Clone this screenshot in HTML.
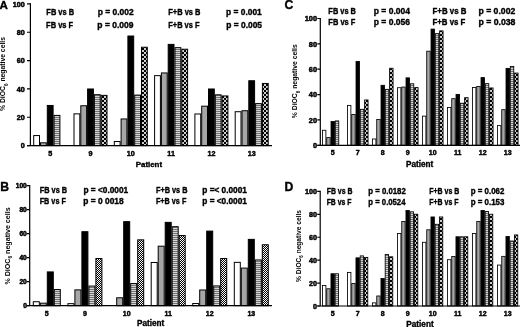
<!DOCTYPE html>
<html><head><meta charset="utf-8"><style>
html,body{margin:0;padding:0;background:#fff;}
body{width:520px;height:327px;overflow:hidden;}
svg{display:block;font-family:"Liberation Sans", sans-serif;will-change:transform;}
text{fill:#000;stroke:#000;stroke-width:0.35px;stroke-linejoin:round;}
</style></head><body>
<svg width="520" height="327" viewBox="0 0 520 327">
<rect width="520" height="327" fill="#fff"/>
<defs>
<pattern id="stripe" patternUnits="userSpaceOnUse" width="4" height="2">
<rect width="4" height="2" fill="#747474"/><rect width="4" height="1" fill="#d4d4d4"/>
</pattern>
<pattern id="check" patternUnits="userSpaceOnUse" width="4" height="4">
<rect width="4" height="4" fill="#000"/><rect x=".1" y=".1" width="1.8" height="1.8" fill="#fff"/><rect x="2.1" y="2.1" width="1.8" height="1.8" fill="#fff"/>
</pattern>
<pattern id="checkB" patternUnits="userSpaceOnUse" width="2" height="2">
<rect width="2" height="2" fill="#000"/><rect width="1" height="1" fill="#fff"/><rect x="1" y="1" width="1" height="1" fill="#fff"/>
</pattern>
</defs>
<rect x="33.7" y="135.57" width="5.8" height="10.03" fill="#ffffff" stroke="#000" stroke-width="1"/>
<rect x="40.5" y="142.81" width="5.8" height="2.79" fill="#a6a6a6" stroke="#000" stroke-width="1"/>
<rect x="47.3" y="105.46" width="5.8" height="40.14" fill="#000000" stroke="#000" stroke-width="1"/>
<rect x="54.1" y="115.4" width="5.8" height="30.2" fill="url(#stripe)" stroke="#000" stroke-width="1"/>
<rect x="74" y="113.84" width="5.8" height="31.76" fill="#ffffff" stroke="#000" stroke-width="1"/>
<rect x="80.8" y="105.75" width="5.8" height="39.85" fill="#a6a6a6" stroke="#000" stroke-width="1"/>
<rect x="87.6" y="88.99" width="5.8" height="56.61" fill="#000000" stroke="#000" stroke-width="1"/>
<rect x="94.4" y="94.67" width="5.8" height="50.93" fill="url(#stripe)" stroke="#000" stroke-width="1"/>
<rect x="101.2" y="95.38" width="5.8" height="50.22" fill="url(#check)" stroke="#000" stroke-width="1"/>
<rect x="114.3" y="141.53" width="5.8" height="4.07" fill="#ffffff" stroke="#000" stroke-width="1"/>
<rect x="121.1" y="118.95" width="5.8" height="26.65" fill="#a6a6a6" stroke="#000" stroke-width="1"/>
<rect x="127.9" y="36.02" width="5.8" height="109.58" fill="#000000" stroke="#000" stroke-width="1"/>
<rect x="134.7" y="95.1" width="5.8" height="50.5" fill="url(#stripe)" stroke="#000" stroke-width="1"/>
<rect x="141.5" y="47.24" width="5.8" height="98.36" fill="url(#check)" stroke="#000" stroke-width="1"/>
<rect x="154.6" y="75.64" width="5.8" height="69.96" fill="#ffffff" stroke="#000" stroke-width="1"/>
<rect x="161.4" y="72.94" width="5.8" height="72.66" fill="#a6a6a6" stroke="#000" stroke-width="1"/>
<rect x="168.2" y="44.4" width="5.8" height="101.2" fill="#000000" stroke="#000" stroke-width="1"/>
<rect x="175" y="47.67" width="5.8" height="97.93" fill="url(#stripe)" stroke="#000" stroke-width="1"/>
<rect x="181.8" y="49.23" width="5.8" height="96.37" fill="url(#check)" stroke="#000" stroke-width="1"/>
<rect x="194.9" y="113.98" width="5.8" height="31.62" fill="#ffffff" stroke="#000" stroke-width="1"/>
<rect x="201.7" y="106.17" width="5.8" height="39.43" fill="#a6a6a6" stroke="#000" stroke-width="1"/>
<rect x="208.5" y="88.99" width="5.8" height="56.61" fill="#000000" stroke="#000" stroke-width="1"/>
<rect x="215.3" y="94.81" width="5.8" height="50.79" fill="url(#stripe)" stroke="#000" stroke-width="1"/>
<rect x="222.1" y="95.95" width="5.8" height="49.65" fill="url(#check)" stroke="#000" stroke-width="1"/>
<rect x="235.2" y="111.71" width="5.8" height="33.89" fill="#ffffff" stroke="#000" stroke-width="1"/>
<rect x="242" y="110.72" width="5.8" height="34.88" fill="#a6a6a6" stroke="#000" stroke-width="1"/>
<rect x="248.8" y="80.75" width="5.8" height="64.85" fill="#000000" stroke="#000" stroke-width="1"/>
<rect x="255.6" y="103.62" width="5.8" height="41.98" fill="url(#stripe)" stroke="#000" stroke-width="1"/>
<rect x="262.4" y="83.45" width="5.8" height="62.15" fill="url(#check)" stroke="#000" stroke-width="1"/>
<path d="M30.4 3.3V146.2M27 145.6H272" stroke="#000" stroke-width="1.2" fill="none"/>
<text x="24.7" y="148.19" font-size="7.2" font-weight="bold" text-anchor="end" style="stroke-width:0.5px">0</text>
<text x="24.7" y="119.85" font-size="7.2" font-weight="bold" text-anchor="end" style="stroke-width:0.5px">20</text>
<text x="24.7" y="91.51" font-size="7.2" font-weight="bold" text-anchor="end" style="stroke-width:0.5px">40</text>
<text x="24.7" y="63.17" font-size="7.2" font-weight="bold" text-anchor="end" style="stroke-width:0.5px">60</text>
<text x="24.7" y="34.83" font-size="7.2" font-weight="bold" text-anchor="end" style="stroke-width:0.5px">80</text>
<text x="24.7" y="6.49" font-size="7.2" font-weight="bold" text-anchor="end" style="stroke-width:0.5px">100</text>
<path d="M27 145.6H30.4M27 117.26H30.4M27 88.92H30.4M27 60.58H30.4M27 32.24H30.4M27 3.9H30.4" stroke="#000" stroke-width="1.2"/>
<text x="50.2" y="156" font-size="7.2" font-weight="bold" text-anchor="middle" style="stroke-width:0.45px">5</text>
<text x="90.5" y="156" font-size="7.2" font-weight="bold" text-anchor="middle" style="stroke-width:0.45px">9</text>
<text x="130.8" y="156" font-size="7.2" font-weight="bold" text-anchor="middle" style="stroke-width:0.45px">10</text>
<text x="171.1" y="156" font-size="7.2" font-weight="bold" text-anchor="middle" style="stroke-width:0.45px">11</text>
<text x="211.4" y="156" font-size="7.2" font-weight="bold" text-anchor="middle" style="stroke-width:0.45px">12</text>
<text x="251.7" y="156" font-size="7.2" font-weight="bold" text-anchor="middle" style="stroke-width:0.45px">13</text>
<text x="148.9" y="167" font-size="7.9" font-weight="bold" text-anchor="middle">Patient</text>
<text transform="translate(5 74) rotate(-90)" font-size="6.8" font-weight="bold" text-anchor="middle" style="stroke-width:0">% DiOC<tspan font-size="4.62" dy="2.58">6</tspan><tspan dy="-2.58"> negative cells</tspan></text>
<text x="-0.4" y="8.6" font-size="11.6" font-weight="bold">A</text>
<rect x="322.43" y="130.27" width="3.45" height="15.03" fill="#ffffff" stroke="#000" stroke-width="0.85"/>
<rect x="326.73" y="137.59" width="3.45" height="7.71" fill="#a6a6a6" stroke="#000" stroke-width="0.85"/>
<rect x="331.03" y="121.55" width="3.45" height="23.75" fill="#000000" stroke="#000" stroke-width="0.85"/>
<rect x="335.32" y="120.92" width="3.45" height="24.38" fill="url(#stripe)" stroke="#000" stroke-width="0.85"/>
<rect x="347.43" y="105.39" width="3.45" height="39.91" fill="#ffffff" stroke="#000" stroke-width="0.85"/>
<rect x="351.73" y="114.48" width="3.45" height="30.82" fill="#a6a6a6" stroke="#000" stroke-width="0.85"/>
<rect x="356.03" y="61.44" width="3.45" height="83.86" fill="#000000" stroke="#000" stroke-width="0.85"/>
<rect x="360.32" y="109.3" width="3.45" height="36" fill="url(#stripe)" stroke="#000" stroke-width="0.85"/>
<rect x="364.62" y="99.96" width="3.45" height="45.34" fill="url(#check)" stroke="#000" stroke-width="0.85"/>
<rect x="372.43" y="138.98" width="3.45" height="6.32" fill="#ffffff" stroke="#000" stroke-width="0.85"/>
<rect x="376.73" y="119.41" width="3.45" height="25.89" fill="#a6a6a6" stroke="#000" stroke-width="0.85"/>
<rect x="381.03" y="85.31" width="3.45" height="59.99" fill="#000000" stroke="#000" stroke-width="0.85"/>
<rect x="385.32" y="89.35" width="3.45" height="55.95" fill="url(#stripe)" stroke="#000" stroke-width="0.85"/>
<rect x="389.62" y="68.26" width="3.45" height="77.04" fill="url(#check)" stroke="#000" stroke-width="0.85"/>
<rect x="397.43" y="87.71" width="3.45" height="57.59" fill="#ffffff" stroke="#000" stroke-width="0.85"/>
<rect x="401.73" y="87.07" width="3.45" height="58.23" fill="#a6a6a6" stroke="#000" stroke-width="0.85"/>
<rect x="406.03" y="77.85" width="3.45" height="67.45" fill="#000000" stroke="#000" stroke-width="0.85"/>
<rect x="410.32" y="83.79" width="3.45" height="61.51" fill="url(#stripe)" stroke="#000" stroke-width="0.85"/>
<rect x="414.62" y="87.58" width="3.45" height="57.72" fill="url(#check)" stroke="#000" stroke-width="0.85"/>
<rect x="422.43" y="116.12" width="3.45" height="29.18" fill="#ffffff" stroke="#000" stroke-width="0.85"/>
<rect x="426.73" y="51.21" width="3.45" height="94.09" fill="#a6a6a6" stroke="#000" stroke-width="0.85"/>
<rect x="431.03" y="29.1" width="3.45" height="116.2" fill="#000000" stroke="#000" stroke-width="0.85"/>
<rect x="435.32" y="33.65" width="3.45" height="111.65" fill="url(#stripe)" stroke="#000" stroke-width="0.85"/>
<rect x="439.62" y="30.87" width="3.45" height="114.43" fill="url(#check)" stroke="#000" stroke-width="0.85"/>
<rect x="447.43" y="107.53" width="3.45" height="37.77" fill="#ffffff" stroke="#000" stroke-width="0.85"/>
<rect x="451.73" y="98.69" width="3.45" height="46.61" fill="#a6a6a6" stroke="#000" stroke-width="0.85"/>
<rect x="456.03" y="94.4" width="3.45" height="50.9" fill="#000000" stroke="#000" stroke-width="0.85"/>
<rect x="460.32" y="103.24" width="3.45" height="42.06" fill="url(#stripe)" stroke="#000" stroke-width="0.85"/>
<rect x="464.62" y="97.68" width="3.45" height="47.62" fill="url(#check)" stroke="#000" stroke-width="0.85"/>
<rect x="472.43" y="87.45" width="3.45" height="57.85" fill="#ffffff" stroke="#000" stroke-width="0.85"/>
<rect x="476.73" y="86.57" width="3.45" height="58.73" fill="#a6a6a6" stroke="#000" stroke-width="0.85"/>
<rect x="481.03" y="77.6" width="3.45" height="67.7" fill="#000000" stroke="#000" stroke-width="0.85"/>
<rect x="485.32" y="83.66" width="3.45" height="61.64" fill="url(#stripe)" stroke="#000" stroke-width="0.85"/>
<rect x="489.62" y="87.96" width="3.45" height="57.34" fill="url(#check)" stroke="#000" stroke-width="0.85"/>
<rect x="497.43" y="125.6" width="3.45" height="19.7" fill="#ffffff" stroke="#000" stroke-width="0.85"/>
<rect x="501.73" y="109.68" width="3.45" height="35.62" fill="#a6a6a6" stroke="#000" stroke-width="0.85"/>
<rect x="506.03" y="68.38" width="3.45" height="76.92" fill="#000000" stroke="#000" stroke-width="0.85"/>
<rect x="510.32" y="66.49" width="3.45" height="78.81" fill="url(#stripe)" stroke="#000" stroke-width="0.85"/>
<rect x="514.62" y="73.06" width="3.45" height="72.24" fill="url(#check)" stroke="#000" stroke-width="0.85"/>
<path d="M320.3 17.9V145.9M317.3 145.3H521" stroke="#000" stroke-width="1.2" fill="none"/>
<text x="317" y="147.96" font-size="7.4" font-weight="bold" text-anchor="end" style="stroke-width:0.5px">0</text>
<text x="317" y="122.6" font-size="7.4" font-weight="bold" text-anchor="end" style="stroke-width:0.5px">20</text>
<text x="317" y="97.24" font-size="7.4" font-weight="bold" text-anchor="end" style="stroke-width:0.5px">40</text>
<text x="317" y="71.88" font-size="7.4" font-weight="bold" text-anchor="end" style="stroke-width:0.5px">60</text>
<text x="317" y="46.52" font-size="7.4" font-weight="bold" text-anchor="end" style="stroke-width:0.5px">80</text>
<text x="317" y="21.16" font-size="7.4" font-weight="bold" text-anchor="end" style="stroke-width:0.5px">100</text>
<path d="M317.3 145.3H320.3M317.3 119.94H320.3M317.3 94.58H320.3M317.3 69.22H320.3M317.3 43.86H320.3M317.3 18.5H320.3" stroke="#000" stroke-width="1.2"/>
<text x="332.75" y="154.9" font-size="7" font-weight="bold" text-anchor="middle" style="stroke-width:0.45px">5</text>
<text x="357.75" y="154.9" font-size="7" font-weight="bold" text-anchor="middle" style="stroke-width:0.45px">7</text>
<text x="382.75" y="154.9" font-size="7" font-weight="bold" text-anchor="middle" style="stroke-width:0.45px">8</text>
<text x="407.75" y="154.9" font-size="7" font-weight="bold" text-anchor="middle" style="stroke-width:0.45px">9</text>
<text x="432.75" y="154.9" font-size="7" font-weight="bold" text-anchor="middle" style="stroke-width:0.45px">10</text>
<text x="457.75" y="154.9" font-size="7" font-weight="bold" text-anchor="middle" style="stroke-width:0.45px">11</text>
<text x="482.75" y="154.9" font-size="7" font-weight="bold" text-anchor="middle" style="stroke-width:0.45px">12</text>
<text x="507.75" y="154.9" font-size="7" font-weight="bold" text-anchor="middle" style="stroke-width:0.45px">13</text>
<text x="419.7" y="167" font-size="8.2" font-weight="bold" text-anchor="middle">Patient</text>
<text transform="translate(297 81.2) rotate(-90)" font-size="6.8" font-weight="bold" text-anchor="middle" style="stroke-width:0">% DiOC<tspan font-size="4.62" dy="2.58">6</tspan><tspan dy="-2.58"> negative cells</tspan></text>
<text x="284.5" y="9" font-size="12.2" font-weight="bold">C</text>
<rect x="33.3" y="301.73" width="6" height="3.97" fill="#ffffff" stroke="#000" stroke-width="1"/>
<rect x="40.3" y="303.17" width="6" height="2.53" fill="#a6a6a6" stroke="#000" stroke-width="1"/>
<rect x="47.3" y="271.92" width="6" height="33.78" fill="#000000" stroke="#000" stroke-width="1"/>
<rect x="54.3" y="289.52" width="6" height="16.18" fill="url(#stripe)" stroke="#000" stroke-width="1"/>
<rect x="67.9" y="303.65" width="6" height="2.05" fill="#ffffff" stroke="#000" stroke-width="1"/>
<rect x="74.9" y="289.88" width="6" height="15.82" fill="#a6a6a6" stroke="#000" stroke-width="1"/>
<rect x="81.9" y="231.71" width="6" height="73.99" fill="#000000" stroke="#000" stroke-width="1"/>
<rect x="88.9" y="286.05" width="6" height="19.65" fill="url(#stripe)" stroke="#000" stroke-width="1"/>
<rect x="95.9" y="258.52" width="6" height="47.18" fill="url(#checkB)" stroke="#000" stroke-width="1"/>
<rect x="116.7" y="297.78" width="6" height="7.92" fill="#a6a6a6" stroke="#000" stroke-width="1"/>
<rect x="123.7" y="221.65" width="6" height="84.05" fill="#000000" stroke="#000" stroke-width="1"/>
<rect x="130.7" y="283.54" width="6" height="22.16" fill="url(#stripe)" stroke="#000" stroke-width="1"/>
<rect x="137.7" y="239.85" width="6" height="65.85" fill="url(#checkB)" stroke="#000" stroke-width="1"/>
<rect x="151.2" y="262.47" width="6" height="43.23" fill="#ffffff" stroke="#000" stroke-width="1"/>
<rect x="158.2" y="246.19" width="6" height="59.51" fill="#a6a6a6" stroke="#000" stroke-width="1"/>
<rect x="165.2" y="222.37" width="6" height="83.33" fill="#000000" stroke="#000" stroke-width="1"/>
<rect x="172.2" y="226.68" width="6" height="79.02" fill="url(#stripe)" stroke="#000" stroke-width="1"/>
<rect x="179.2" y="235.54" width="6" height="70.16" fill="url(#checkB)" stroke="#000" stroke-width="1"/>
<rect x="192.7" y="303.53" width="6" height="2.17" fill="#ffffff" stroke="#000" stroke-width="1"/>
<rect x="199.7" y="290" width="6" height="15.7" fill="#a6a6a6" stroke="#000" stroke-width="1"/>
<rect x="206.7" y="231.11" width="6" height="74.59" fill="#000000" stroke="#000" stroke-width="1"/>
<rect x="213.7" y="285.93" width="6" height="19.77" fill="url(#stripe)" stroke="#000" stroke-width="1"/>
<rect x="220.7" y="258.52" width="6" height="47.18" fill="url(#checkB)" stroke="#000" stroke-width="1"/>
<rect x="234.3" y="262.35" width="6" height="43.35" fill="#ffffff" stroke="#000" stroke-width="1"/>
<rect x="241.3" y="268.09" width="6" height="37.61" fill="#a6a6a6" stroke="#000" stroke-width="1"/>
<rect x="248.3" y="239.37" width="6" height="66.33" fill="#000000" stroke="#000" stroke-width="1"/>
<rect x="255.3" y="259.95" width="6" height="45.75" fill="url(#stripe)" stroke="#000" stroke-width="1"/>
<rect x="262.3" y="244.75" width="6" height="60.95" fill="url(#checkB)" stroke="#000" stroke-width="1"/>
<path d="M29.7 185.1V306.3M26.7 305.7H272" stroke="#000" stroke-width="1.2" fill="none"/>
<text x="26.8" y="308.08" font-size="6.6" font-weight="bold" text-anchor="end" style="stroke-width:0.5px">0</text>
<text x="26.8" y="284.08" font-size="6.6" font-weight="bold" text-anchor="end" style="stroke-width:0.5px">20</text>
<text x="26.8" y="260.08" font-size="6.6" font-weight="bold" text-anchor="end" style="stroke-width:0.5px">40</text>
<text x="26.8" y="236.08" font-size="6.6" font-weight="bold" text-anchor="end" style="stroke-width:0.5px">60</text>
<text x="26.8" y="212.08" font-size="6.6" font-weight="bold" text-anchor="end" style="stroke-width:0.5px">80</text>
<text x="26.8" y="188.08" font-size="6.6" font-weight="bold" text-anchor="end" style="stroke-width:0.5px">100</text>
<path d="M26.7 305.7H29.7M26.7 281.7H29.7M26.7 257.7H29.7M26.7 233.7H29.7M26.7 209.7H29.7M26.7 185.7H29.7" stroke="#000" stroke-width="1.2"/>
<text x="46.8" y="315.9" font-size="7" font-weight="bold" text-anchor="middle" style="stroke-width:0.45px">5</text>
<text x="84.9" y="315.9" font-size="7" font-weight="bold" text-anchor="middle" style="stroke-width:0.45px">9</text>
<text x="126.7" y="315.9" font-size="7" font-weight="bold" text-anchor="middle" style="stroke-width:0.45px">10</text>
<text x="168.2" y="315.9" font-size="7" font-weight="bold" text-anchor="middle" style="stroke-width:0.45px">11</text>
<text x="209.7" y="315.9" font-size="7" font-weight="bold" text-anchor="middle" style="stroke-width:0.45px">12</text>
<text x="251.3" y="315.9" font-size="7" font-weight="bold" text-anchor="middle" style="stroke-width:0.45px">13</text>
<text x="150.7" y="326" font-size="8.2" font-weight="bold" text-anchor="middle">Patient</text>
<text transform="translate(9.6 246) rotate(-90)" font-size="7.1" font-weight="bold" text-anchor="middle" style="stroke-width:0">% DiOC<tspan font-size="4.83" dy="2.7">6</tspan><tspan dy="-2.7"> negative cells</tspan></text>
<text x="0.3" y="190.7" font-size="12.2" font-weight="bold">B</text>
<rect x="322.53" y="285.44" width="3.37" height="20.56" fill="#ffffff" stroke="#000" stroke-width="0.85"/>
<rect x="326.75" y="288.76" width="3.37" height="17.24" fill="#a6a6a6" stroke="#000" stroke-width="0.85"/>
<rect x="330.97" y="273.76" width="3.37" height="32.24" fill="#000000" stroke="#000" stroke-width="0.85"/>
<rect x="335.19" y="273.76" width="3.37" height="32.24" fill="url(#stripe)" stroke="#000" stroke-width="0.85"/>
<rect x="347.53" y="272.39" width="3.37" height="33.61" fill="#ffffff" stroke="#000" stroke-width="0.85"/>
<rect x="351.75" y="283.5" width="3.37" height="22.5" fill="#a6a6a6" stroke="#000" stroke-width="0.85"/>
<rect x="355.97" y="257.85" width="3.37" height="48.15" fill="#000000" stroke="#000" stroke-width="0.85"/>
<rect x="360.19" y="255.9" width="3.37" height="50.1" fill="url(#stripe)" stroke="#000" stroke-width="0.85"/>
<rect x="364.41" y="257.39" width="3.37" height="48.61" fill="url(#check)" stroke="#000" stroke-width="0.85"/>
<rect x="372.53" y="302.85" width="3.37" height="3.15" fill="#ffffff" stroke="#000" stroke-width="0.85"/>
<rect x="376.75" y="295.98" width="3.37" height="10.02" fill="#a6a6a6" stroke="#000" stroke-width="0.85"/>
<rect x="380.97" y="278.46" width="3.37" height="27.54" fill="#000000" stroke="#000" stroke-width="0.85"/>
<rect x="385.19" y="254.41" width="3.37" height="51.59" fill="url(#stripe)" stroke="#000" stroke-width="0.85"/>
<rect x="389.41" y="256.82" width="3.37" height="49.18" fill="url(#check)" stroke="#000" stroke-width="0.85"/>
<rect x="397.53" y="233.57" width="3.37" height="72.43" fill="#ffffff" stroke="#000" stroke-width="0.85"/>
<rect x="401.75" y="221.55" width="3.37" height="84.45" fill="#a6a6a6" stroke="#000" stroke-width="0.85"/>
<rect x="405.97" y="210.56" width="3.37" height="95.44" fill="#000000" stroke="#000" stroke-width="0.85"/>
<rect x="410.19" y="211.82" width="3.37" height="94.18" fill="url(#stripe)" stroke="#000" stroke-width="0.85"/>
<rect x="414.41" y="214.22" width="3.37" height="91.78" fill="url(#check)" stroke="#000" stroke-width="0.85"/>
<rect x="422.53" y="242.28" width="3.37" height="63.72" fill="#ffffff" stroke="#000" stroke-width="0.85"/>
<rect x="426.75" y="229.8" width="3.37" height="76.2" fill="#a6a6a6" stroke="#000" stroke-width="0.85"/>
<rect x="430.97" y="216.97" width="3.37" height="89.03" fill="#000000" stroke="#000" stroke-width="0.85"/>
<rect x="435.19" y="224.3" width="3.37" height="81.7" fill="url(#stripe)" stroke="#000" stroke-width="0.85"/>
<rect x="439.41" y="216.97" width="3.37" height="89.03" fill="url(#check)" stroke="#000" stroke-width="0.85"/>
<rect x="447.53" y="259.68" width="3.37" height="46.32" fill="#ffffff" stroke="#000" stroke-width="0.85"/>
<rect x="451.75" y="256.47" width="3.37" height="49.53" fill="#a6a6a6" stroke="#000" stroke-width="0.85"/>
<rect x="455.97" y="236.78" width="3.37" height="69.22" fill="#000000" stroke="#000" stroke-width="0.85"/>
<rect x="460.19" y="236.78" width="3.37" height="69.22" fill="url(#stripe)" stroke="#000" stroke-width="0.85"/>
<rect x="464.41" y="236.78" width="3.37" height="69.22" fill="url(#check)" stroke="#000" stroke-width="0.85"/>
<rect x="472.53" y="233.57" width="3.37" height="72.43" fill="#ffffff" stroke="#000" stroke-width="0.85"/>
<rect x="476.75" y="221.55" width="3.37" height="84.45" fill="#a6a6a6" stroke="#000" stroke-width="0.85"/>
<rect x="480.97" y="210.56" width="3.37" height="95.44" fill="#000000" stroke="#000" stroke-width="0.85"/>
<rect x="485.19" y="211.48" width="3.37" height="94.52" fill="url(#stripe)" stroke="#000" stroke-width="0.85"/>
<rect x="489.41" y="214.22" width="3.37" height="91.78" fill="url(#check)" stroke="#000" stroke-width="0.85"/>
<rect x="497.53" y="265.06" width="3.37" height="40.94" fill="#ffffff" stroke="#000" stroke-width="0.85"/>
<rect x="501.75" y="256.36" width="3.37" height="49.64" fill="#a6a6a6" stroke="#000" stroke-width="0.85"/>
<rect x="505.97" y="236.55" width="3.37" height="69.45" fill="#000000" stroke="#000" stroke-width="0.85"/>
<rect x="510.19" y="241.02" width="3.37" height="64.98" fill="url(#stripe)" stroke="#000" stroke-width="0.85"/>
<rect x="514.4" y="234.95" width="3.37" height="71.05" fill="url(#check)" stroke="#000" stroke-width="0.85"/>
<path d="M320.2 190.8V306.6M317.2 306H521" stroke="#000" stroke-width="1.2" fill="none"/>
<text x="317" y="308.59" font-size="7.2" font-weight="bold" text-anchor="end" style="stroke-width:0.5px">0</text>
<text x="317" y="285.67" font-size="7.2" font-weight="bold" text-anchor="end" style="stroke-width:0.5px">20</text>
<text x="317" y="262.75" font-size="7.2" font-weight="bold" text-anchor="end" style="stroke-width:0.5px">40</text>
<text x="317" y="239.83" font-size="7.2" font-weight="bold" text-anchor="end" style="stroke-width:0.5px">60</text>
<text x="317" y="216.91" font-size="7.2" font-weight="bold" text-anchor="end" style="stroke-width:0.5px">80</text>
<text x="317" y="193.99" font-size="7.2" font-weight="bold" text-anchor="end" style="stroke-width:0.5px">100</text>
<path d="M317.2 306H320.2M317.2 283.08H320.2M317.2 260.16H320.2M317.2 237.24H320.2M317.2 214.32H320.2M317.2 191.4H320.2" stroke="#000" stroke-width="1.2"/>
<text x="332.65" y="315.7" font-size="7" font-weight="bold" text-anchor="middle" style="stroke-width:0.45px">5</text>
<text x="357.65" y="315.7" font-size="7" font-weight="bold" text-anchor="middle" style="stroke-width:0.45px">7</text>
<text x="382.65" y="315.7" font-size="7" font-weight="bold" text-anchor="middle" style="stroke-width:0.45px">8</text>
<text x="407.65" y="315.7" font-size="7" font-weight="bold" text-anchor="middle" style="stroke-width:0.45px">9</text>
<text x="432.65" y="315.7" font-size="7" font-weight="bold" text-anchor="middle" style="stroke-width:0.45px">10</text>
<text x="457.65" y="315.7" font-size="7" font-weight="bold" text-anchor="middle" style="stroke-width:0.45px">11</text>
<text x="482.65" y="315.7" font-size="7" font-weight="bold" text-anchor="middle" style="stroke-width:0.45px">12</text>
<text x="507.65" y="315.7" font-size="7" font-weight="bold" text-anchor="middle" style="stroke-width:0.45px">13</text>
<text x="420" y="326.5" font-size="8.2" font-weight="bold" text-anchor="middle">Patient</text>
<text transform="translate(300.6 246) rotate(-90)" font-size="6.6" font-weight="bold" text-anchor="middle" style="stroke-width:0">% DiOC<tspan font-size="4.49" dy="2.51">6</tspan><tspan dy="-2.51"> negative cells</tspan></text>
<text x="284.5" y="191.2" font-size="12.2" font-weight="bold">D</text>
<text x="46.33" y="14.6" font-size="8.3" font-weight="bold" textLength="27.78" lengthAdjust="spacingAndGlyphs">FB vs B</text>
<text x="97.65" y="14.6" font-size="8.3" font-weight="bold" textLength="35.95" lengthAdjust="spacingAndGlyphs">p = 0.002</text>
<text x="168.22" y="14.6" font-size="8.3" font-weight="bold" textLength="32.28" lengthAdjust="spacingAndGlyphs">F+B vs B</text>
<text x="226.14" y="14.6" font-size="8.3" font-weight="bold" textLength="35.63" lengthAdjust="spacingAndGlyphs">p = 0.001</text>
<text x="46.08" y="27.6" font-size="8.3" font-weight="bold" textLength="27.03" lengthAdjust="spacingAndGlyphs">FB vs F</text>
<text x="97.35" y="27.6" font-size="8.3" font-weight="bold" textLength="36.14" lengthAdjust="spacingAndGlyphs">p = 0.009</text>
<text x="168.22" y="27.6" font-size="8.3" font-weight="bold" textLength="31.32" lengthAdjust="spacingAndGlyphs">F+B vs F</text>
<text x="226.28" y="27.6" font-size="8.3" font-weight="bold" textLength="35.75" lengthAdjust="spacingAndGlyphs">p = 0.005</text>
<text x="328.36" y="13.6" font-size="8.3" font-weight="bold" textLength="27.57" lengthAdjust="spacingAndGlyphs">FB vs B</text>
<text x="373.81" y="13.6" font-size="8.3" font-weight="bold" textLength="36.16" lengthAdjust="spacingAndGlyphs">p = 0.004</text>
<text x="432.48" y="13.6" font-size="8.3" font-weight="bold" textLength="33.94" lengthAdjust="spacingAndGlyphs">F+B vs B</text>
<text x="478.44" y="13.6" font-size="8.3" font-weight="bold" textLength="36.83" lengthAdjust="spacingAndGlyphs">p = 0.002</text>
<text x="328.35" y="25" font-size="8.3" font-weight="bold" textLength="27.03" lengthAdjust="spacingAndGlyphs">FB vs F</text>
<text x="373.79" y="25" font-size="8.3" font-weight="bold" textLength="36.29" lengthAdjust="spacingAndGlyphs">p = 0.056</text>
<text x="432.46" y="25" font-size="8.3" font-weight="bold" textLength="32.93" lengthAdjust="spacingAndGlyphs">F+B vs F</text>
<text x="478.45" y="25" font-size="8.3" font-weight="bold" textLength="37.04" lengthAdjust="spacingAndGlyphs">p = 0.038</text>
<text x="39.72" y="192.6" font-size="8.3" font-weight="bold" textLength="27.38" lengthAdjust="spacingAndGlyphs">FB vs B</text>
<text x="83.4" y="192.7" font-size="8.3" font-weight="bold" textLength="44.77" lengthAdjust="spacingAndGlyphs">p = &lt;0.0001</text>
<text x="155.91" y="192.6" font-size="8.3" font-weight="bold" textLength="31.55" lengthAdjust="spacingAndGlyphs">F+B vs B</text>
<text x="202.27" y="192.7" font-size="8.3" font-weight="bold" textLength="44.67" lengthAdjust="spacingAndGlyphs">p =&lt; 0.0001</text>
<text x="39.71" y="203.6" font-size="8.3" font-weight="bold" textLength="26.14" lengthAdjust="spacingAndGlyphs">FB vs F</text>
<text x="83.39" y="203.8" font-size="8.3" font-weight="bold" textLength="40.3" lengthAdjust="spacingAndGlyphs">p = 0 0018</text>
<text x="155.92" y="203.6" font-size="8.3" font-weight="bold" textLength="30.44" lengthAdjust="spacingAndGlyphs">F+B vs F</text>
<text x="202.27" y="203.8" font-size="8.3" font-weight="bold" textLength="44.67" lengthAdjust="spacingAndGlyphs">p = &lt;0.0001</text>
<text x="326.71" y="193.9" font-size="8.3" font-weight="bold" textLength="25.76" lengthAdjust="spacingAndGlyphs">FB vs B</text>
<text x="368.36" y="193.9" font-size="8.3" font-weight="bold" textLength="37.4" lengthAdjust="spacingAndGlyphs">p = 0.0182</text>
<text x="429.29" y="193.9" font-size="8.3" font-weight="bold" textLength="30.07" lengthAdjust="spacingAndGlyphs">F+B vs B</text>
<text x="470.77" y="193.9" font-size="8.3" font-weight="bold" textLength="33.54" lengthAdjust="spacingAndGlyphs">p = 0.062</text>
<text x="326.7" y="204.7" font-size="8.3" font-weight="bold" textLength="24.69" lengthAdjust="spacingAndGlyphs">FB vs F</text>
<text x="368.36" y="204.7" font-size="8.3" font-weight="bold" textLength="37.1" lengthAdjust="spacingAndGlyphs">p = 0.0524</text>
<text x="429.29" y="204.7" font-size="8.3" font-weight="bold" textLength="29.15" lengthAdjust="spacingAndGlyphs">F+B vs F</text>
<text x="470.75" y="204.7" font-size="8.3" font-weight="bold" textLength="33.68" lengthAdjust="spacingAndGlyphs">p = 0.153</text>
</svg>
</body></html>
